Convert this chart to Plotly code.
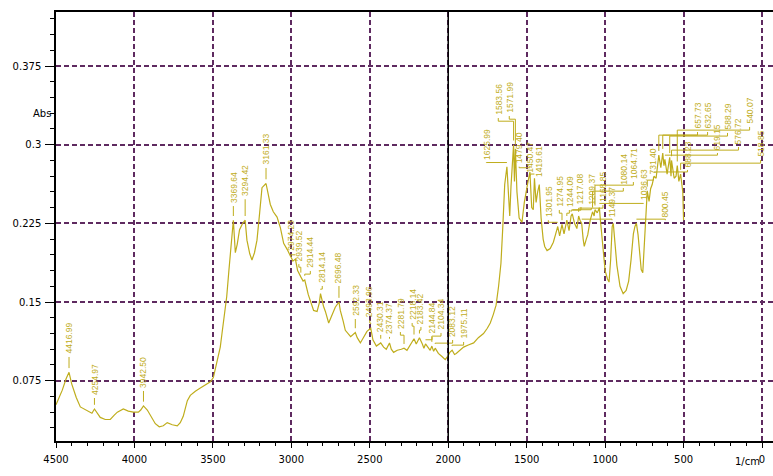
import numpy as np
import plotly.graph_objects as go

# ---- spectrum (wavenumber in 1/cm, absorbance) ----
wavenumber = [
    4500, 4460, 4435, 4416.99, 4400, 4371, 4345, 4307, 4271, 4254.97, 4235, 4218,
    4186, 4154, 4130, 4109, 4071, 4039, 4007, 3975, 3960, 3942.50, 3918, 3899,
    3867, 3842, 3816, 3791, 3759, 3727, 3708, 3689, 3663, 3644, 3612, 3580,
    3548, 3516, 3497, 3478, 3453, 3442, 3430, 3412, 3398, 3385, 3369.64, 3357,
    3345, 3330, 3310, 3294.42, 3283, 3265, 3251, 3235, 3219, 3202, 3187, 3161.33,
    3153, 3134, 3115, 3091, 3070, 3049, 3026, 3006, 2990, 2974.23, 2960, 2939.52,
    2925, 2914.44, 2892, 2858, 2836, 2822, 2814.14, 2795, 2783, 2762, 2739, 2720,
    2696.48, 2688, 2670, 2656, 2622, 2605, 2592.33, 2580, 2560, 2541, 2518, 2493.96,
    2480, 2458, 2430.31, 2412, 2395, 2374.37, 2363, 2348, 2325, 2299, 2281.79, 2263,
    2242, 2218.14, 2204, 2183.42, 2165, 2155, 2144.84, 2127, 2115, 2104.34, 2093, 2083.12,
    2063, 2040, 2019, 2000, 1990, 1975.11, 1960, 1949, 1923, 1902, 1872, 1838,
    1808, 1775, 1751, 1732, 1713, 1695, 1679, 1664, 1653, 1640, 1625.99, 1618,
    1608, 1600, 1590, 1583.56, 1578, 1571.99, 1562, 1548, 1530, 1515, 1495, 1479.40,
    1468, 1458, 1450.47, 1440, 1430, 1419.61, 1408, 1395, 1385, 1370, 1350, 1330,
    1315, 1301.95, 1290, 1274.95, 1262, 1244.09, 1230, 1217.08, 1209.37, 1195, 1180, 1168.85,
    1160, 1149.37, 1140, 1133, 1120, 1111, 1095, 1080.14, 1070, 1064.71, 1050, 1036.63,
    1030, 1015, 1000, 985, 975, 965, 955, 948, 940, 925, 905, 885,
    866, 850, 835, 820, 810, 800.45, 790, 780, 770, 760, 752, 745,
    731.40, 720, 710, 700, 688.23, 675, 665, 657.73, 645, 632.65, 625, 619.15,
    605, 588.29, 580, 576.72, 560, 548, 540.07, 530, 518.85, 505, 500,
]
absorbance = [
    0.052, 0.066, 0.077, 0.083, 0.072, 0.059, 0.050, 0.047, 0.044, 0.048, 0.043, 0.040,
    0.038, 0.038, 0.042, 0.045, 0.048, 0.046, 0.045, 0.045, 0.047, 0.051, 0.047, 0.042,
    0.034, 0.031, 0.032, 0.035, 0.033, 0.032, 0.035, 0.041, 0.056, 0.061, 0.065, 0.068,
    0.071, 0.074, 0.078, 0.090, 0.107, 0.120, 0.133, 0.155, 0.180, 0.203, 0.228, 0.197,
    0.205, 0.219, 0.225, 0.228, 0.209, 0.196, 0.190, 0.197, 0.209, 0.235, 0.259, 0.263,
    0.257, 0.243, 0.236, 0.231, 0.221, 0.206, 0.200, 0.194, 0.189, 0.191, 0.180, 0.174,
    0.170, 0.171, 0.157, 0.142, 0.141, 0.149, 0.158, 0.146, 0.141, 0.130, 0.138, 0.145,
    0.150, 0.142, 0.132, 0.123, 0.117, 0.119, 0.121, 0.116, 0.111, 0.116, 0.122, 0.125,
    0.114, 0.108, 0.111, 0.107, 0.105, 0.111, 0.105, 0.102, 0.104, 0.105, 0.106, 0.104,
    0.109, 0.115, 0.110, 0.116, 0.110, 0.106, 0.110, 0.106, 0.104, 0.108, 0.103, 0.106,
    0.101, 0.098, 0.095, 0.099, 0.102, 0.104, 0.100, 0.101, 0.104, 0.107, 0.109, 0.111,
    0.116, 0.120, 0.125, 0.130, 0.138, 0.147, 0.165, 0.187, 0.219, 0.262, 0.279, 0.255,
    0.232, 0.260, 0.285, 0.300, 0.265, 0.296, 0.255, 0.230, 0.226, 0.245, 0.262, 0.274,
    0.240, 0.238, 0.268, 0.245, 0.255, 0.262, 0.230, 0.210, 0.203, 0.199, 0.201, 0.207,
    0.215, 0.222, 0.213, 0.224, 0.215, 0.228, 0.218, 0.232, 0.234, 0.225, 0.220, 0.232,
    0.228, 0.225, 0.210, 0.203, 0.210, 0.214, 0.228, 0.236, 0.232, 0.238, 0.235, 0.240,
    0.228, 0.200, 0.180, 0.172, 0.169, 0.190, 0.222, 0.225, 0.210, 0.185, 0.165, 0.158,
    0.161, 0.170, 0.190, 0.215, 0.222, 0.225, 0.214, 0.195, 0.181, 0.178, 0.200, 0.230,
    0.256, 0.246, 0.258, 0.262, 0.270, 0.268, 0.283, 0.290, 0.278, 0.292, 0.280, 0.286,
    0.272, 0.288, 0.270, 0.285, 0.268, 0.270, 0.280, 0.265, 0.272, 0.255, 0.228,
]

# ---- peak picks (label text = peak wavenumber) ----
peak_labels = [
    "4416.99", "4254.97", "3942.50", "3369.64", "3294.42", "3161.33", "2974.23",
    "2939.52", "2914.44", "2814.14", "2696.48", "2592.33", "2493.96", "2430.31",
    "2374.37", "2281.79", "2218.14", "2183.42", "2144.84", "2104.34", "2083.12",
    "1975.11", "1625.99", "1583.56", "1571.99", "1479.40", "1450.47", "1419.61",
    "1301.95", "1274.95", "1244.09", "1217.08", "1209.37", "1168.85", "1149.37",
    "1080.14", "1064.71", "1036.63", "800.45", "731.40", "688.23", "657.73",
    "632.65", "619.15", "588.29", "576.72", "540.07", "518.85",
]

# where each peak label is placed: (x in 1/cm, text baseline in Abs)
label_place = [
    (4416.99, 0.0976), (4254.97, 0.0585), (3942.50, 0.0652), (3369.64, 0.2415),
    (3294.42, 0.2480), (3161.33, 0.2778), (3001, 0.1958), (2952, 0.1862),
    (2879, 0.1796), (2803, 0.1653), (2696.48, 0.1653), (2592.33, 0.1338),
    (2500, 0.1329), (2430.31, 0.1186), (2374.37, 0.1167), (2305, 0.1214),
    (2230, 0.1300), (2174, 0.1262), (2103, 0.1167), (2046, 0.1205),
    (1972, 0.1138), (1902, 0.1119), (1757, 0.2825), (1681, 0.3254),
    (1611, 0.3273), (1548, 0.2790), (1478, 0.2700), (1420, 0.2660),
    (1362, 0.2280), (1292, 0.2377), (1228, 0.2377), (1154, 0.2406),
    (1088, 0.2396), (1014, 0.2425), (956, 0.2280), (884, 0.2587),
    (820, 0.2644), (756, 0.2444), (616, 0.2280), (692, 0.2692),
    (475, 0.2759), (411, 0.3121), (347, 0.3121), (284, 0.2921),
    (220, 0.3112), (150, 0.2978), (79, 0.3169), (9, 0.2854),
]

x_tick_vals = [4500, 4000, 3500, 3000, 2500, 2000, 1500, 1000, 500, 0]
x_tick_text = ["4500", "4000", "3500", "3000", "2500", "2000", "1500", "1000", "500", "0"]
y_tick_vals = [0.075, 0.15, 0.225, 0.3, 0.375]
y_tick_text = ["0.075", "0.15", "0.225", "0.3", "0.375"]

TRACE = "#bfad1c"
GRID = "#5e2a60"
FONT = "DejaVu Sans"

wn_arr = np.array(wavenumber)
ab_arr = np.array(absorbance)
order = np.argsort(wn_arr)

# leader lines from each peak up to its label (with an elbow when displaced)
lx, ly = [], []
for lab, (tx, base) in zip(peak_labels, label_place):
    pw = float(lab)
    py = float(np.interp(pw, wn_arr[order], ab_arr[order]))
    start = py + 0.004
    elbow = max(base - 0.003, start)
    lx += [pw, pw, tx, tx, None]
    ly += [start, elbow, elbow, base, None]

fig = go.Figure()
fig.add_trace(go.Scatter(x=wavenumber, y=absorbance, mode="lines",
                         line=dict(color=TRACE, width=1.2), hoverinfo="skip"))
fig.add_trace(go.Scatter(x=lx, y=ly, mode="lines",
                         line=dict(color=TRACE, width=1), hoverinfo="skip"))

for lab, (tx, base) in zip(peak_labels, label_place):
    fig.add_annotation(x=tx, y=base, text=lab, textangle=-90, showarrow=False,
                       xanchor="center", yanchor="bottom", yshift=1,
                       font=dict(family="Liberation Sans", size=8.5, color=TRACE))

# cursor line
fig.add_shape(type="line", x0=2000, x1=2000, y0=0, y1=1, xref="x", yref="paper",
              line=dict(color="black", width=1.5), layer="above")

fig.add_annotation(x=-0.035, y=0.781, xref="paper", yref="paper", text="Abs",
                   showarrow=False, font=dict(family=FONT, size=10, color="black"))
fig.add_annotation(x=0.985, y=-0.065, xref="paper", yref="paper", text="1/cm",
                   showarrow=False, font=dict(family=FONT, size=10, color="black"))

fig.update_layout(
    width=773, height=476,
    margin=dict(l=56, r=0, t=12, b=35),
    paper_bgcolor="white", plot_bgcolor="white",
    showlegend=False,
    xaxis=dict(
        range=[4500, -70], tickmode="array", tickvals=x_tick_vals, ticktext=x_tick_text,
        ticks="outside", ticklen=5, tickcolor="black", tickwidth=1, ticklabelstandoff=3,
        showline=True, linecolor="black", linewidth=1.5, mirror=True,
        showgrid=True, gridcolor=GRID, griddash="5px,3px", gridwidth=1.5,
        zeroline=False, tickfont=dict(family=FONT, size=10, color="black"),
        minor=dict(dtick=100, tick0=0, ticks="outside", ticklen=3,
                   tickcolor="black", showgrid=False),
    ),
    yaxis=dict(
        range=[0.0175, 0.4265], tickmode="array", tickvals=y_tick_vals, ticktext=y_tick_text,
        ticks="outside", ticklen=9, tickcolor="black", tickwidth=1, ticklabelstandoff=2,
        showline=True, linecolor="black", linewidth=1.5,
        showgrid=True, gridcolor=GRID, griddash="5px,3px", gridwidth=1.5,
        zeroline=False, tickfont=dict(family=FONT, size=10, color="black"),
        minor=dict(dtick=0.015, tick0=0, ticks="outside", ticklen=4,
                   tickcolor="black", showgrid=False),
    ),
)

fig.write_html("out.html")
